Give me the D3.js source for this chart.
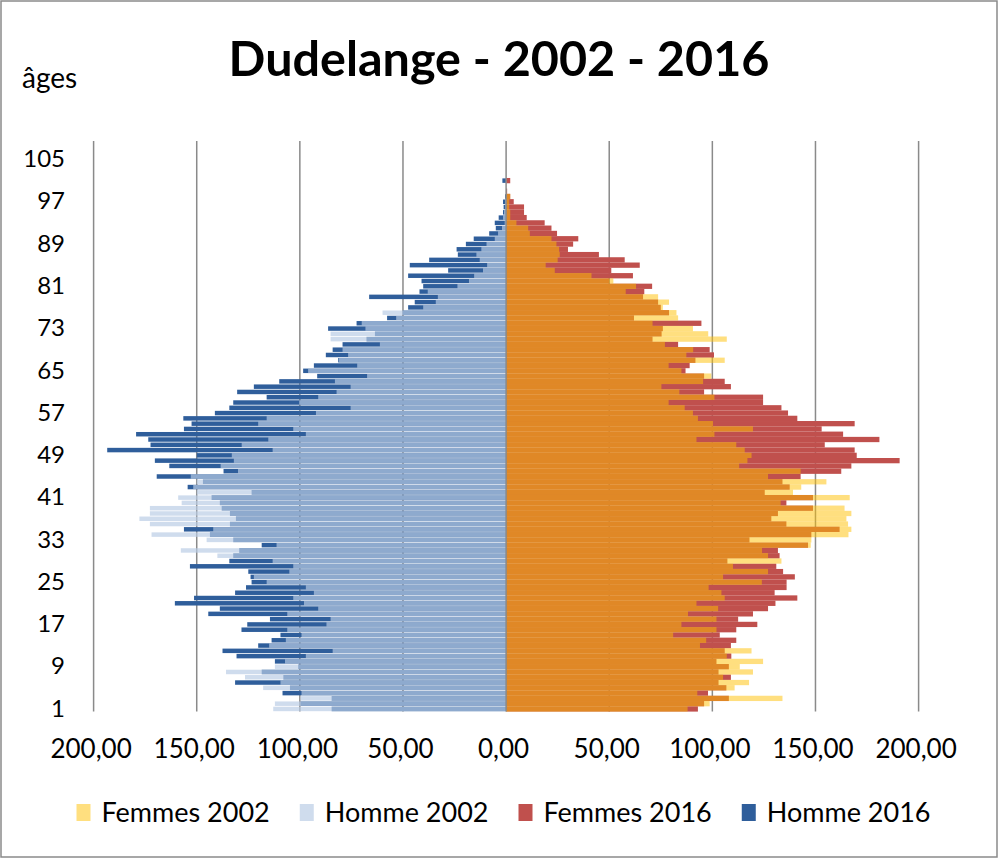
<!DOCTYPE html>
<html>
<head>
<meta charset="utf-8">
<script src="https://cdn.jsdelivr.net/npm/d3@7"></script>
<style>
  body { margin: 0; background: #fff; }
  text { font-family: Lato, "Open Sans", sans-serif; }
</style>
</head>
<body>
<div id="chart"></div>
<script>
// ages on the vertical axis (categories)
var ages = d3.range(1, 109);

// tick labels
var ageTicks = [1, 9, 17, 25, 33, 41, 49, 57, 65, 73, 81, 89, 97, 105];
var xTicks = [-200, -150, -100, -50, 0, 50, 100, 150, 200];

// series values, index 0 = age 1
var femmes2002 = [
  88, 98.7, 134, 92.7, 110.8, 117.8, 105.2, 119.7, 113.3, 124.6,
  107, 119, 94, 97, 81, 102, 85, 102, 88.2, 102.8,
  92.3, 106, 104.4, 98.2, 124, 105.2, 127, 110, 133.5, 127,
  124.1, 147.7, 148, 166, 167.4, 165.8, 165, 167.4, 164.1, 133.1,
  166.6, 139.1, 143.1, 155.3, 127, 142.8, 113, 117, 119, 115.7,
  111.6, 92.3, 101, 119.7, 100.3, 93, 90.6, 86.6, 78.8, 101,
  84, 75.3, 95.5, 99.5, 85, 78.8, 106, 87.4, 90.7, 77,
  107, 98, 90.6, 71, 83.4, 82.6, 76, 79, 73.7, 58,
  63, 52, 41.4, 23.6, 19.2, 25, 26, 25.7, 24.4, 22,
  11.5, 10.7, 5, 2, 2, 1.5, 1.5, 2, 0, 0,
  0, 0, 0, 0, 0, 0, 0, 0
];
var femmes2016 = [
  93, 96, 108, 97.9, 106.8, 103, 109, 103, 108, 102,
  109.2, 106, 109, 111.6, 103.6, 111.6, 121.8, 112.5, 119.7, 127,
  130.6, 141.2, 130.2, 136, 136, 140, 134.3, 131, 107.3, 132.6,
  131.8, 146.4, 118, 148, 161.7, 135.9, 128.6, 131.8, 148.8, 135.9,
  148.8, 125.4, 137.5, 134, 142.8, 162.5, 167.4, 190.8, 170, 169,
  154.5, 181, 163.4, 153, 169, 141.2, 136.7, 133.5, 124.6, 124.6,
  96, 109, 106, 96, 87, 89, 91.8, 100.8, 98.7, 83.4,
  71, 75.4, 76, 94.7, 62, 79, 75, 73.7, 66.4, 67,
  70.8, 50, 61.5, 51, 64.8, 57.5, 45, 30, 32.5, 35,
  24.7, 22, 18.7, 10, 8.7, 8.7, 3.7, 2, 0.5, 0,
  2, 0, 0, 0, 0, 0, 0, 0
];
var homme2002 = [
  112.9, 112.1, 99.7, 99.2, 117.8, 109.4, 126.6, 135.8, 112.1, 107.2,
  97.1, 84.1, 114.9, 106.8, 99.2, 106.1, 87.1, 85.1, 106.1, 91.1,
  98, 103.2, 93.2, 97.1, 116.1, 122.3, 105.1, 103.2, 113.2, 140,
  157.7, 111.3, 145.2, 171.9, 142, 172.7, 177.8, 172.7, 172.7, 157.3,
  159, 150, 151.7, 150, 152.9, 130, 138.4, 132, 133, 113.2,
  128.2, 115.3, 97.1, 103.2, 120.2, 116.1, 92.2, 75.4, 100.3, 91.1,
  82.2, 75.4, 83, 67.4, 96, 72.2, 81, 76.6, 79.3, 61.2,
  85.1, 85.1, 68.2, 70, 53.3, 59.9, 40.2, 34.1, 33.1, 38,
  23.6, 18, 15.5, 11.2, 9.2, 12.8, 14.4, 12, 9.5, 5.5,
  3.9, 2, 0.7, 1.5, 1, 0.5, 0.5, 0, 0, 0,
  0, 0, 0, 0, 0, 0, 0, 0
];
var homme2016 = [
  84.6, 99.7, 84.6, 108.4, 104.8, 131.4, 108, 118.5, 100.8, 112.1,
  130.7, 137.5, 120.2, 113.7, 109.4, 128.3, 125.5, 114.5, 144.4, 138.8,
  160.6, 151.3, 131.4, 126.1, 123.4, 123.9, 125, 153.3, 134.2, 132.3,
  129.4, 118.5, 132.3, 143.6, 156.2, 133.9, 131, 133.9, 137.9, 138.8,
  142.8, 123.4, 154.4, 147, 169.4, 137, 163.3, 170.3, 150, 193.4,
  172.4, 173.5, 179.4, 156.2, 152.5, 156.5, 141.2, 134.2, 132.3, 116.1,
  130.4, 122.3, 110, 91.6, 98.4, 93.2, 81.4, 87.4, 84.1, 79.3,
  67.7, 63.6, 86.3, 72.5, 57.7, 50.2, 47.5, 44.3, 66.4, 42,
  40.2, 41, 47.5, 28.1, 46.7, 37.3, 23.4, 24, 19.5, 15.7,
  8.2, 5, 5.5, 3.6, 1.5, 1.2, 1.5, 0.5, 0, 0,
  1.8, 0, 0, 0, 0, 0, 0, 0
];

// series as drawn: 2016 first (solid), 2002 on top (see-through)
var series = [
  {name: "Homme 2016", values: homme2016, side: -1, color: "#2f5e9b", opacity: 1},
  {name: "Femmes 2016", values: femmes2016, side: 1, color: "#c0504d", opacity: 1},
  {name: "Homme 2002", values: homme2002, side: -1, color: "#b9cde5", opacity: 0.69},
  {name: "Femmes 2002", values: femmes2002, side: 1, color: "#ffc000", opacity: 0.5}
];
var legendOrder = ["Femmes 2002", "Homme 2002", "Femmes 2016", "Homme 2016"];

var svgWidth = 998;
var svgHeight = 858;
var plot = {left: 93.6, right: 918.6, top: 141, bottom: 711.6};

var svg = d3.select("#chart")
  .append("svg")
  .attr("width", svgWidth)
  .attr("height", svgHeight);

// chart frame
svg.append("rect")
  .attr("x", 1).attr("y", 1)
  .attr("width", svgWidth - 2).attr("height", svgHeight - 2)
  .attr("fill", "#fff")
  .attr("stroke", "#8a8a8a")
  .attr("stroke-width", 1.5);

var xScale = d3.scaleLinear().domain([-200, 200]).range([plot.left, plot.right]);
var yScale = d3.scaleBand().domain(ages).range([plot.bottom, plot.top]).padding(0);
var band = yScale.bandwidth();

// vertical gridlines
svg.append("g")
  .selectAll("line")
  .data(xTicks.filter(d => d !== 0))
  .enter()
  .append("line")
  .attr("x1", d => xScale(d)).attr("x2", d => xScale(d))
  .attr("y1", plot.top).attr("y2", plot.bottom)
  .attr("stroke", "#8a8a8a")
  .attr("stroke-width", 1.5);

// bars
series.forEach(function(s) {
  svg.append("g")
    .attr("fill", s.color)
    .attr("fill-opacity", s.opacity)
    .selectAll("rect")
    .data(ages)
    .enter()
    .append("rect")
    .attr("x", (d, i) => s.side < 0 ? xScale(-s.values[i]) : xScale(0))
    .attr("width", (d, i) => Math.abs(xScale(s.side * s.values[i]) - xScale(0)))
    .attr("y", d => s.side < 0 ? yScale(d) + 0.4 : yScale(d))
    .attr("height", s.side < 0 ? band - 0.8 : band);
});

// zero axis line
svg.append("line")
  .attr("x1", xScale(0)).attr("x2", xScale(0))
  .attr("y1", plot.top).attr("y2", plot.bottom)
  .attr("stroke", "#8a8a8a")
  .attr("stroke-width", 1.5);

// age labels, at the low end (left)
var yAxis = d3.axisLeft(yScale).tickValues(ageTicks).tickSize(0).tickPadding(0);
svg.append("g")
  .attr("transform", "translate(65,0)")
  .call(yAxis)
  .attr("font-family", "Lato, 'Open Sans', sans-serif")
  .attr("font-size", 24)
  .call(g => g.select(".domain").remove())
  .selectAll("text").attr("fill", "#000");

// value labels
var xAxis = d3.axisBottom(xScale)
  .tickValues(xTicks)
  .tickSize(0)
  .tickPadding(28)
  .tickFormat(d => d3.format(".2f")(Math.abs(d)).replace(".", ","));
svg.append("g")
  .attr("transform", `translate(-3, ${plot.bottom})`)
  .call(xAxis)
  .attr("font-family", "Lato, 'Open Sans', sans-serif")
  .attr("font-size", 26)
  .call(g => g.select(".domain").remove())
  .selectAll("text").attr("fill", "#000");

// title
svg.append("text")
  .attr("x", 499).attr("y", 76)
  .attr("text-anchor", "middle")
  .style("font-weight", "bold")
  .style("font-size", "48.5px")
  .attr("fill", "#000")
  .text("Dudelange - 2002 - 2016");

svg.append("text")
  .attr("x", 22).attr("y", 88)
  .style("font-size", "28px")
  .attr("fill", "#000")
  .text("âges");

// legend
var legend = svg.append("g");
var items = legendOrder.map(n => series.find(s => s.name === n));
var xPos = 0;
var gap = 30;
items.forEach(function(s) {
  var g = legend.append("g").attr("transform", `translate(${xPos},0)`);
  g.append("rect")
    .attr("x", 0).attr("y", -9)
    .attr("width", 14).attr("height", 17)
    .attr("fill", s.color)
    .attr("fill-opacity", s.opacity);
  var t = g.append("text")
    .attr("x", 25).attr("y", 0)
    .attr("dy", "0.35em")
    .style("font-size", "27px")
    .attr("fill", "#000")
    .text(s.name);
  xPos += 25 + t.node().getComputedTextLength() + gap;
});
var legendWidth = xPos - gap;
legend.attr("transform", `translate(${503.5 - legendWidth / 2}, 813)`);
</script>
</body>
</html>
